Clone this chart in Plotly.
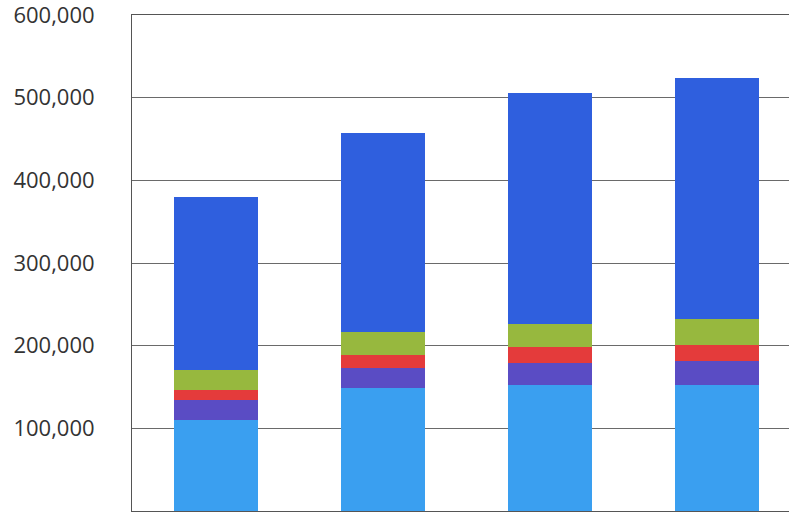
import plotly.graph_objects as go

# Four stacked columns, five components each (bottom to top)
categories = ["1", "2", "3", "4"]
light_blue = [110000, 149000, 152000, 152000]
purple = [24000, 24000, 27000, 30000]
red = [12000, 16000, 19000, 19000]
green = [24500, 27000, 28000, 31500]
dark_blue = [209500, 241000, 280000, 291500]

tick_vals = [100000, 200000, 300000, 400000, 500000, 600000]
tick_text = ["100,000", "200,000", "300,000", "400,000", "500,000", "600,000"]

series = [
    ("Component 1", light_blue, "#3a9ff0"),
    ("Component 2", purple, "#5a4cc4"),
    ("Component 3", red, "#e43b3b"),
    ("Component 4", green, "#97b83e"),
    ("Component 5", dark_blue, "#2f5fde"),
]

fig = go.Figure()
for name, vals, color in series:
    fig.add_trace(go.Bar(
        x=categories, y=vals, name=name,
        marker=dict(color=color, line=dict(width=0)),
    ))

fig.update_layout(
    barmode="stack",
    bargap=0.497,
    width=789, height=512,
    margin=dict(l=132, r=0, t=15, b=1),
    paper_bgcolor="white",
    plot_bgcolor="white",
    showlegend=False,
    font=dict(family="Open Sans", size=22, color="#333333"),
    xaxis=dict(
        type="category",
        range=[-0.5, 3.434],
        showticklabels=False,
        showgrid=False,
        showline=True, linecolor="#555555", linewidth=1,
        mirror=True,
        ticks="",
    ),
    yaxis=dict(
        range=[0, 600000],
        tickvals=tick_vals,
        ticktext=tick_text,
        showgrid=True, gridcolor="#6a6a6a", gridwidth=1,
        showline=True, linecolor="#555555", linewidth=1,
        ticks="",
        ticklabelstandoff=32,
        ticklabeloverflow="allow",
        zeroline=False,
    ),
)

fig.write_html("out.html")
